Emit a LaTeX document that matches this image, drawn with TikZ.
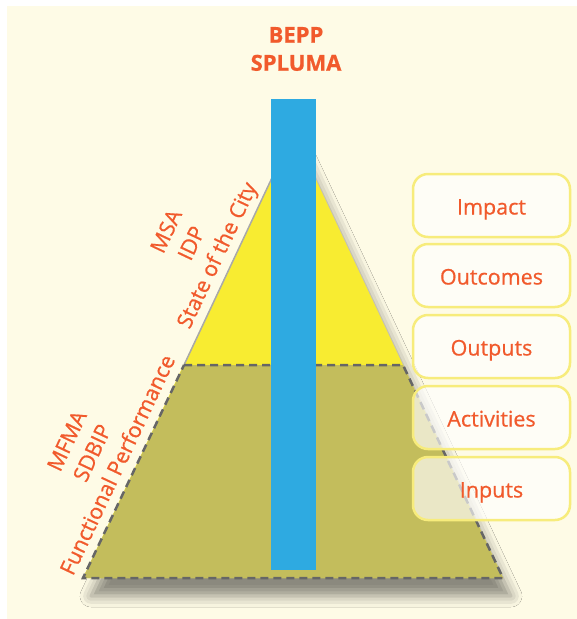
\documentclass[tikz,border=0pt]{standalone}
\usepackage{fontspec}
\setmainfont{Open Sans}[FakeBold=0.7]
\usetikzlibrary{shadows.blur}
\definecolor{bgcream}{HTML}{FEFBE6}
\definecolor{topyellow}{HTML}{F8EC31}
\definecolor{baseolive}{HTML}{C3BD5C}
\definecolor{barblue}{HTML}{2EAAE1}
\definecolor{textorange}{HTML}{F15A2C}
\definecolor{dashgray}{HTML}{666666}
\definecolor{edgegray}{HTML}{A9A9A9}
\definecolor{boxyellow}{HTML}{F7EC7C}

\begin{document}
\begin{tikzpicture}[x=1pt,y=-1pt,
  orange text/.style={text=textorange,font=\fontsize{21.5}{28}\selectfont},
  side label/.style={orange text,rotate=64.7,anchor=south,align=center,inner sep=1pt},
  level box/.style={orange text,draw=boxyellow,line width=2.5pt,fill=white,fill opacity=0.65,text opacity=1,
    rounded corners=15pt,minimum width=157pt,minimum height=63pt,text height=18pt,text depth=0pt}]
\useasboundingbox (0,0) rectangle (577,619);
\fill[bgcream] (7,6) rectangle (577,619);
% pyramid
\fill[topyellow,blur shadow={shadow xshift=8pt,shadow yshift=-18pt,shadow blur radius=11pt,shadow opacity=45}]
  (293.5,132) -- (503,578) -- (83,578) -- cycle;
\fill[baseolive] (184,365) -- (403,365) -- (503,578) -- (83,578) -- cycle;
\draw[edgegray,line width=1.5pt] (293.5,132) -- (184,365);
\draw[dashgray,line width=2.5pt,dash pattern=on 8pt off 5pt] (184,365) -- (403,365) -- (503,578) -- (83,578) -- cycle;
\fill[barblue] (271,99) rectangle (316,570);
% labels
\node[orange text,align=center,font=\fontsize{22}{28}\selectfont\bfseries] (plans) at (296,49) {BEPP\\SPLUMA};
\node[side label] (strategic) at (232.1,262.4) {MSA\\IDP\\State of the City\strut};
\node[side label] (operational) at (133,472.1) {MFMA\\SDBIP\\Functional Performance\strut};
% results chain
\node[level box] (impact) at (491.5,205.5) {Impact};
\node[level box] (outcomes) at (491.5,275.5) {Outcomes};
\node[level box] (outputs) at (491.5,346.5) {Outputs};
\node[level box] (activities) at (491.5,417.5) {Activities};
\node[level box] (inputs) at (491.5,488.5) {Inputs};
\end{tikzpicture}
\end{document}
